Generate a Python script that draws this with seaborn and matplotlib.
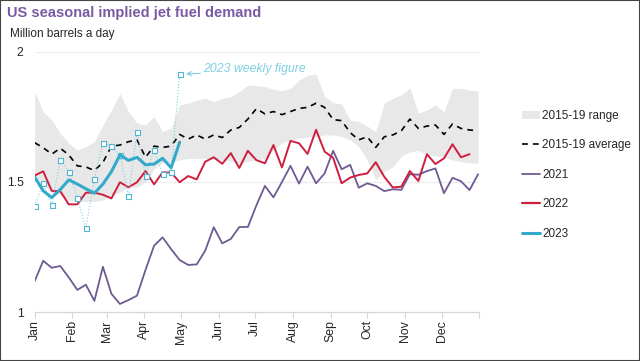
import numpy as np
import pandas as pd
import matplotlib
matplotlib.use("Agg")
import matplotlib.pyplot as plt
import matplotlib.patches as mpatches
import seaborn as sns

# weekly values, million barrels a day (week 0 = 1 Jan)
range_low = [1.52, 1.49, 1.46, 1.45, 1.43, 1.425, 1.425, 1.425, 1.43, 1.45,
             1.46, 1.48, 1.48, 1.50, 1.55, 1.575, 1.575, 1.585, 1.59, 1.59,
             1.59, 1.59, 1.585, 1.58, 1.572, 1.58, 1.585, 1.59, 1.62, 1.65,
             1.662, 1.668, 1.672, 1.674, 1.681, 1.681, 1.675, 1.662, 1.636, 1.585,
             1.508, 1.540, 1.559, 1.600, 1.615, 1.622, 1.605, 1.600, 1.597, 1.585,
             1.578, 1.574, 1.572]
range_high = [1.847, 1.770, 1.738, 1.687, 1.649, 1.623, 1.636, 1.655, 1.719, 1.777,
              1.841, 1.770, 1.726, 1.719, 1.751, 1.694, 1.706, 1.796, 1.803, 1.815,
              1.822, 1.809, 1.822, 1.828, 1.848, 1.873, 1.870, 1.867, 1.856, 1.852,
              1.860, 1.892, 1.910, 1.915, 1.830, 1.805, 1.800, 1.738, 1.733, 1.715,
              1.694, 1.803, 1.822, 1.835, 1.862, 1.764, 1.777, 1.796, 1.770, 1.860,
              1.860, 1.853, 1.851]
avg_1519 = [1.651, 1.632, 1.607, 1.630, 1.604, 1.562, 1.558, 1.544, 1.575, 1.638,
            1.642, 1.655, 1.662, 1.595, 1.638, 1.633, 1.638, 1.683, 1.665, 1.681,
            1.665, 1.681, 1.671, 1.700, 1.710, 1.742, 1.782, 1.762, 1.771, 1.759,
            1.771, 1.783, 1.787, 1.803, 1.787, 1.740, 1.736, 1.690, 1.662, 1.674,
            1.633, 1.674, 1.681, 1.697, 1.742, 1.706, 1.715, 1.719, 1.683, 1.723,
            1.706, 1.700, 1.697]
y2021 = [1.119, 1.197, 1.170, 1.177, 1.133, 1.085, 1.105, 1.043, 1.174, 1.070,
         1.031, 1.046, 1.063, 1.162, 1.255, 1.287, 1.242, 1.200, 1.181, 1.183,
         1.236, 1.326, 1.264, 1.281, 1.327, 1.327, 1.41, 1.485, 1.441, 1.50,
         1.562, 1.494, 1.559, 1.495, 1.533, 1.620, 1.549, 1.566, 1.478, 1.495,
         1.485, 1.465, 1.472, 1.470, 1.530, 1.528, 1.542, 1.552, 1.457, 1.516,
         1.503, 1.469, 1.530]
y2022 = [1.525, 1.541, 1.466, 1.465, 1.414, 1.414, 1.459, 1.459, 1.451, 1.437,
         1.499, 1.480, 1.499, 1.542, 1.491, 1.537, 1.537, 1.499, 1.523, 1.510,
         1.578, 1.595, 1.570, 1.611, 1.554, 1.620, 1.584, 1.572, 1.642, 1.556,
         1.658, 1.649, 1.608, 1.701, 1.617, 1.593, 1.495, 1.517, 1.527, 1.533,
         1.576, 1.520, 1.479, 1.482, 1.542, 1.504, 1.607, 1.569, 1.591, 1.645,
         1.595, 1.607]
y2023 = [1.519, 1.466, 1.440, 1.471, 1.508, 1.492, 1.474, 1.457, 1.492, 1.540,
         1.604, 1.583, 1.595, 1.566, 1.569, 1.591, 1.555, 1.653]
y2023_weekly = [1.408, 1.495, 1.412, 1.585, 1.540, 1.440, 1.322, 1.512, 1.651, 1.638,
                1.604, 1.446, 1.694, 1.523, 1.623, 1.530, 1.537, 1.915]

months = ["Jan", "Feb", "Mar", "Apr", "May", "Jun", "Jul", "Aug", "Sep", "Oct", "Nov", "Dec"]
month_start_day = [0, 31, 59, 90, 120, 151, 181, 212, 243, 273, 304, 334]

PURPLE = "#6f5b92"
RED = "#cf1f3e"
BLUE = "#35a9cc"
LIGHT_BLUE = "#7fcfe3"
GREY = "#e8e8e8"

sns.set_style("white")
plt.rcParams["font.family"] = ["Liberation Sans", "DejaVu Sans"]

days = lambda n: np.arange(n) * 7

fig = plt.figure(figsize=(6.4, 3.61), dpi=100)
ax = fig.add_axes([0.0542, 0.1357, 0.6947, 0.7203])

ax.fill_between(days(len(range_low)), range_low, range_high, color=GREY, lw=0, zorder=1)
sns.lineplot(x=days(len(avg_1519)), y=avg_1519, ax=ax, color="black", lw=1.2,
             linestyle=(0, (3.5, 3)), zorder=2)
sns.lineplot(x=days(len(y2021)), y=y2021, ax=ax, color=PURPLE, lw=1.3, zorder=3)
sns.lineplot(x=days(len(y2022)), y=y2022, ax=ax, color=RED, lw=1.4, zorder=4)
sns.lineplot(x=days(len(y2023_weekly)), y=y2023_weekly, ax=ax, color=LIGHT_BLUE, lw=0.8,
             linestyle=":", marker="s", markersize=3.6, markerfacecolor="white",
             markeredgecolor="#4fb5d0", markeredgewidth=0.8, zorder=5)
sns.lineplot(x=days(len(y2023)), y=y2023, ax=ax, color=BLUE, lw=2.2, zorder=6)

# annotation for the weekly figure
last_day = (len(y2023_weekly) - 1) * 7
ax.annotate("", xy=(last_day, y2023_weekly[-1]), xytext=(15, 0.5), textcoords="offset points",
            arrowprops=dict(arrowstyle="->,head_length=0.3,head_width=0.15", color=LIGHT_BLUE,
                            lw=0.8, shrinkA=0, shrinkB=4.5))
ax.annotate("2023 weekly figure", xy=(last_day, y2023_weekly[-1]), xytext=(17, 4),
            textcoords="offset points", va="center", ha="left", fontsize=8.8,
            style="italic", color=LIGHT_BLUE)

ax.set_xlim(0, 365)
ax.set_ylim(1, 2)
ax.set_xticks(month_start_day + [365])
ax.set_xticklabels(months + [""], rotation=90, fontsize=8.8)
ax.set_yticks([1, 1.5, 2])
ax.set_yticklabels(["1", "1.5", "2"], fontsize=8.8)
ax.tick_params(axis="x", length=4, color="#d6d6d6", width=0.8, pad=2, bottom=True)
ax.tick_params(axis="y", length=0, pad=8)
ax.yaxis.grid(True, color="#ececec", lw=0.8)
ax.set_axisbelow(True)
for s in ["top", "right", "left"]:
    ax.spines[s].set_visible(False)
ax.spines["bottom"].set_color("#d6d6d6")
ax.spines["bottom"].set_linewidth(0.8)
ax.set_xlabel("")
ax.set_ylabel("")

fig.text(7 / 640, 1 - 17 / 361, "US seasonal implied jet fuel demand", fontsize=10.5,
         weight="bold", color="#7a5ba3", va="baseline")
fig.text(10 / 640, 1 - 37 / 361, "Million barrels a day", fontsize=8.5, va="baseline")

handles = [
    mpatches.Patch(facecolor=GREY, edgecolor="none"),
    plt.Line2D([], [], color="black", lw=1.2, linestyle=(0, (3.5, 3))),
    plt.Line2D([], [], color=PURPLE, lw=1.3),
    plt.Line2D([], [], color=RED, lw=1.6),
    plt.Line2D([], [], color=BLUE, lw=2.2),
]
labels = ["2015-19 range", "2015-19 average", "2021", "2022", "2023"]
fig.legend(handles, labels, loc="upper left", bbox_to_anchor=(522 / 640, 1 - 110 / 361),
           frameon=False, fontsize=8.5, handlelength=1.5, handletextpad=0.2,
           labelspacing=1.48, borderpad=0, borderaxespad=0)

fig.add_artist(mpatches.Rectangle((0, 0), 1, 1, transform=fig.transFigure, fill=False,
                                  edgecolor="#444444", lw=1.5))

fig.savefig("out.png", dpi=100)
